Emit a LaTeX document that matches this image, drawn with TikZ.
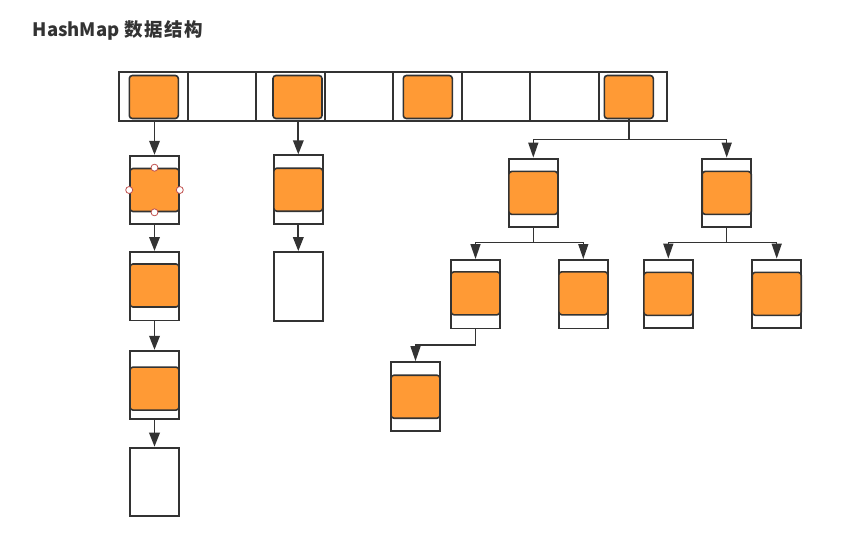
\documentclass[tikz,border=0pt]{standalone}
\usepackage{fontspec}
\newfontfamily\cjk{Noto Sans CJK SC}
\usetikzlibrary{arrows.meta}
\definecolor{lc}{HTML}{333333}
\definecolor{orn}{HTML}{FF9A35}
\definecolor{hnd}{HTML}{C0504D}
\begin{document}
\begin{tikzpicture}[x=1pt,y=-1pt,
  cell/.style={draw=lc, line width=1.9pt, minimum width=68.5pt, minimum height=49pt, inner sep=0pt},
  ent/.style={draw=lc, fill=white, line width=1.9pt, minimum width=49pt, minimum height=68.5pt, inner sep=0pt},
  org/.style={draw=lc, fill=orn, rounded corners=3pt, line width=1.6pt, minimum width=49pt, minimum height=43pt, inner sep=0pt},
  arr/.style={draw=lc, line width=1.9pt, -{Triangle[width=10.5pt,length=14pt]}},
  tline/.style={draw=lc, line width=1.4pt},
  tarr/.style={draw=lc, line width=1.4pt, -{Triangle[width=10pt,length=15pt]}},
  handle/.style={circle, draw=hnd, fill=white, line width=0.8pt, minimum size=7pt, inner sep=0pt}]
\useasboundingbox (0,0) rectangle (862,536);
% title
\node[anchor=west, text=lc, inner sep=0pt] (title) at (32.5,30) {\cjk\bfseries\fontsize{18.5}{22}\selectfont HashMap\hspace{1pt} 数\hspace{1.5pt}据\hspace{1.5pt}结\hspace{1.5pt}构};
% array cells
\foreach \i in {1,...,8} {
  \node[cell] (c\i) at ({119.3+68.5*(\i-0.5)},96.2) {};
}
\node[org] (o1) at (153.8,97) {};
\node[org] (o3) at (297.5,97) {};
\node[org] (o5) at (427.8,97) {};
\node[org] (o8) at (628.8,97) {};
% chain 1
\node[ent] (a1) at (154.5,190) {};
\node[org] (a1o) at (154.5,190) {};
\node[ent] (a2) at (154.5,286.2) {};
\node[org] (a2o) at (154.5,285.5) {};
\node[ent] (a3) at (154.5,385) {};
\node[org] (a3o) at (154.5,388.6) {};
\node[ent] (a4) at (154.5,481.9) {};
% chain 2
\node[ent] (b1) at (298.3,189.5) {};
\node[org] (b1o) at (298.3,189.7) {};
\node[ent] (b2) at (298.3,286.3) {};
% tree
\node[ent] (ta) at (533.3,192.8) {};
\node[org] (tao) at (533.3,192.9) {};
\node[ent] (tb) at (726.7,192.8) {};
\node[org] (tbo) at (726.7,192.9) {};
\node[ent] (te) at (475.5,294.2) {};
\node[org] (teo) at (475.5,293.3) {};
\node[ent] (tf) at (583.3,294.2) {};
\node[org] (tfo) at (583.3,293.3) {};
\node[ent] (tc) at (668.3,293.8) {};
\node[org] (tco) at (668.3,293.8) {};
\node[ent] (td) at (776.7,293.8) {};
\node[org] (tdo) at (776.7,293.8) {};
\node[ent] (tg) at (415.5,396.3) {};
\node[org] (tgo) at (415.5,396.7) {};
% selection handles
\node[handle] (h1) at (a1o.north) {};
\node[handle] (h2) at (a1o.south) {};
\node[handle] (h3) at (a1o.east) {};
\node[handle] (h4) at (a1o.west) {};
% chain arrows
\draw[arr] (a1.north |- c1.south) -- (a1.north);
\draw[arr] (a1.south) -- (a2.north);
\draw[arr] (a2.south) -- (a3.north);
\draw[arr] (a3.south) -- (a4.north);
\draw[arr] (b1.north |- c3.south) -- (b1.north);
\draw[arr] (b1.south) -- (b2.north);
% tree connectors
\coordinate (j1) at (628.8,139.5);
\coordinate (j2) at (533.3,242.5);
\coordinate (j3) at (726.7,242.3);
\coordinate (j4) at (475.5,345);
\draw[tline] (o8.south) -- (j1);
\draw[tarr] (j1) -| (ta.north);
\draw[tarr] (j1) -| (tb.north);
\draw[tline] (ta.south) -- (j2);
\draw[tarr] (j2) -| (te.north);
\draw[tarr] (j2) -| (tf.north);
\draw[tline] (tb.south) -- (j3);
\draw[tarr] (j3) -| (tc.north);
\draw[tarr] (j3) -| (td.north);
\draw[tline] (te.south) -- (j4);
\draw[tarr] (j4) -| (tg.north);
\end{tikzpicture}
\end{document}
